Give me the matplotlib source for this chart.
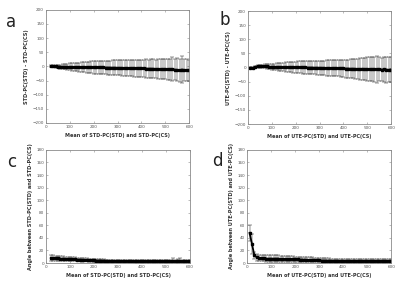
import numpy as np
import matplotlib
matplotlib.use("Agg")
import matplotlib.pyplot as plt

# ---- data (binned means +/- SD) ----
a_x = list(range(20, 610, 10))
a_mean = [0.5, 0.2, -0.3, -0.5, -0.8, -1.0, -1.2, -1.3, -1.6, -1.8,
          -2.0, -2.1, -2.3, -2.5, -2.6, -2.8, -3.0, -3.1, -3.3, -3.4,
          -3.5, -3.7, -3.8, -4.0, -4.1, -4.3, -4.4, -4.6, -4.8, -5.0,
          -5.2, -5.3, -5.6, -5.8, -6.0, -6.2, -6.4, -6.7, -7.0, -7.2,
          -7.5, -7.8, -8.0, -8.3, -8.6, -9.0, -9.3, -9.6, -10.0, -10.5,
          -10.8, -9.0, -11.5, -12.0, -14.0, -11.0, -13.0, -12.5, -14.0]
a_sd = [3, 4, 5, 6, 7, 8, 9, 10, 12, 13,
        14, 15, 16, 17, 18, 19, 20, 21, 22, 22,
        23, 23, 24, 24, 25, 25, 26, 26, 27, 27,
        28, 28, 28, 29, 29, 30, 30, 30, 31, 31,
        32, 32, 33, 33, 33, 34, 34, 35, 36, 36,
        37, 42, 38, 40, 41, 48, 40, 38, 37]

b_x = list(range(10, 610, 10))
b_mean = [0, -1, 3, 4, 5, 4, 5, 4, 3, 3,
          3, 2.5, 2.5, 2, 2, 2, 1.5, 1.5, 1, 1,
          1, 0.5, 0.5, 0.5, 0, 0, 0, -0.5, -0.5, -0.5,
          -1, -1, -1.5, -1.5, -2, -2, -2.5, -2.5, -3, -3,
          -3.5, -3.5, -4, -4, -4.5, -4.5, -5, -4, -5.5, -5,
          -6, -5, -6.5, -6, -5, -7, -6.5, -7, -8, -7]
b_sd = [3, 4, 4, 5, 5, 6, 7, 8, 9, 10,
        11, 12, 13, 14, 15, 16, 17, 18, 19, 20,
        21, 21, 22, 22, 23, 23, 24, 24, 25, 25,
        26, 26, 27, 27, 28, 28, 29, 29, 30, 31,
        32, 32, 33, 34, 35, 36, 38, 39, 40, 41,
        42, 44, 45, 48, 44, 42, 45, 46, 44, 45]

c_x = list(range(20, 610, 10))
c_mean = [8, 8, 7.5, 7.5, 7, 7, 6.5, 6.5, 6, 6,
          6, 5.5, 5.5, 5, 5, 5, 4.5, 4.5, 4.5, 4,
          4, 4, 4, 3.5, 3.5, 3.5, 3.5, 3, 3, 3,
          3, 3, 3, 3, 3, 2.5, 2.5, 2.5, 2.5, 2.5,
          2.5, 2.5, 2.5, 2.5, 2.5, 2.5, 2.5, 2.5, 2.5, 2.5,
          2.5, 2.5, 2.5, 2.5, 2.5, 2.5, 2.5, 2.5, 2.5]
c_sd = [4, 4, 4, 3.5, 3.5, 3.5, 3.5, 3, 3, 3,
        3, 3, 3, 3, 2.5, 2.5, 2.5, 2.5, 2.5, 2.5,
        2, 2, 2, 2, 2, 2, 2, 2, 2, 2,
        2, 2, 2, 2, 2, 2, 2, 2, 2, 2,
        2, 2, 2, 2, 2, 2, 2.5, 2.5, 2.5, 3,
        3, 5, 3, 4, 6, 3, 3, 2.5, 3]

d_x = list(range(10, 610, 10))
d_mean = [48, 30, 12, 9, 8, 7.5, 7.5, 7, 7, 7,
          7, 7, 7, 6.5, 6.5, 6.5, 6.5, 6, 6, 6,
          6, 5.5, 5.5, 5.5, 5, 5, 5, 4.5, 4.5, 4.5,
          4, 4, 4, 4, 3.5, 3.5, 3.5, 3.5, 3, 3,
          3, 3, 3, 3, 3, 3, 3, 3, 3, 3,
          3, 3, 3, 3, 3, 3, 3, 3, 3, 3]
d_sd = [13, 16, 6, 5, 5, 5, 5, 5, 5, 5,
        5, 5, 5, 4.5, 4.5, 4.5, 4.5, 4.5, 4.5, 4,
        4, 4, 4, 4, 4, 4, 4, 3.5, 3.5, 3.5,
        3.5, 3.5, 3.5, 3.5, 3, 3, 3, 3, 3, 3,
        3, 3, 3, 3, 3, 3, 3, 3, 3, 3.5,
        3.5, 3.5, 3.5, 3.5, 3.5, 3.5, 3.5, 3.5, 3.5, 3.5]

x_labels = ["Mean of STD-PC(STD) and STD-PC(CS)",
            "Mean of UTE-PC(STD) and UTE-PC(CS)"]
y_labels = ["STD-PC(STD) - STD-PC(CS)",
            "UTE-PC(STD) - UTE-PC(CS)",
            "Angle between STD-PC(STD) and STD-PC(CS)",
            "Angle between UTE-PC(STD) and UTE-PC(CS)"]
letters = ["a", "b", "c", "d"]

fig = plt.figure(figsize=(4.0, 2.9), dpi=100)

# axes boxes in figure fractions
boxes = [[0.115, 0.576, 0.358, 0.39],
         [0.620, 0.572, 0.358, 0.39],
         [0.115, 0.093, 0.360, 0.39],
         [0.618, 0.093, 0.360, 0.39]]
letter_pos = [(0.028, 0.925), (0.562, 0.93), (0.03, 0.44), (0.543, 0.445)]

panels = [(a_x, a_mean, a_sd), (b_x, b_mean, b_sd),
          (c_x, c_mean, c_sd), (d_x, d_mean, d_sd)]

for i, (xs, m, s) in enumerate(panels):
    ax = fig.add_axes(boxes[i])
    ax.errorbar(xs, m, yerr=s, color="black", ecolor="#222222",
                elinewidth=0.35, capsize=1.3, capthick=0.35,
                lw=1.3, marker="s", ms=1.8, mfc="black", mec="black")
    ax.set_xlim(0, 600)
    ax.set_xticks(range(0, 700, 100))
    if i < 2:
        ax.set_ylim(-200, 200)
        ax.set_yticks(range(-200, 250, 50))
    else:
        ax.set_ylim(0, 180)
        ax.set_yticks(range(0, 200, 20))
    for sp in ax.spines.values():
        sp.set_color("#8a8a8a")
        sp.set_linewidth(0.6)
    ax.tick_params(direction="in", length=1.5, width=0.4, colors="#8a8a8a",
                   labelcolor="#555555", labelsize=3.0, pad=1.5,
                   top=True, right=True)
    ax.set_xlabel(x_labels[i % 2], fontsize=3.5, fontweight="bold",
                  color="#333333", labelpad=2.5)
    ax.set_ylabel(y_labels[i], fontsize=3.6, fontweight="bold",
                  color="#333333", labelpad=2.5)
    fig.text(letter_pos[i][0], letter_pos[i][1], letters[i], fontsize=12,
             ha="center", va="center", color="#222222")

fig.savefig("out.png", dpi=100)
